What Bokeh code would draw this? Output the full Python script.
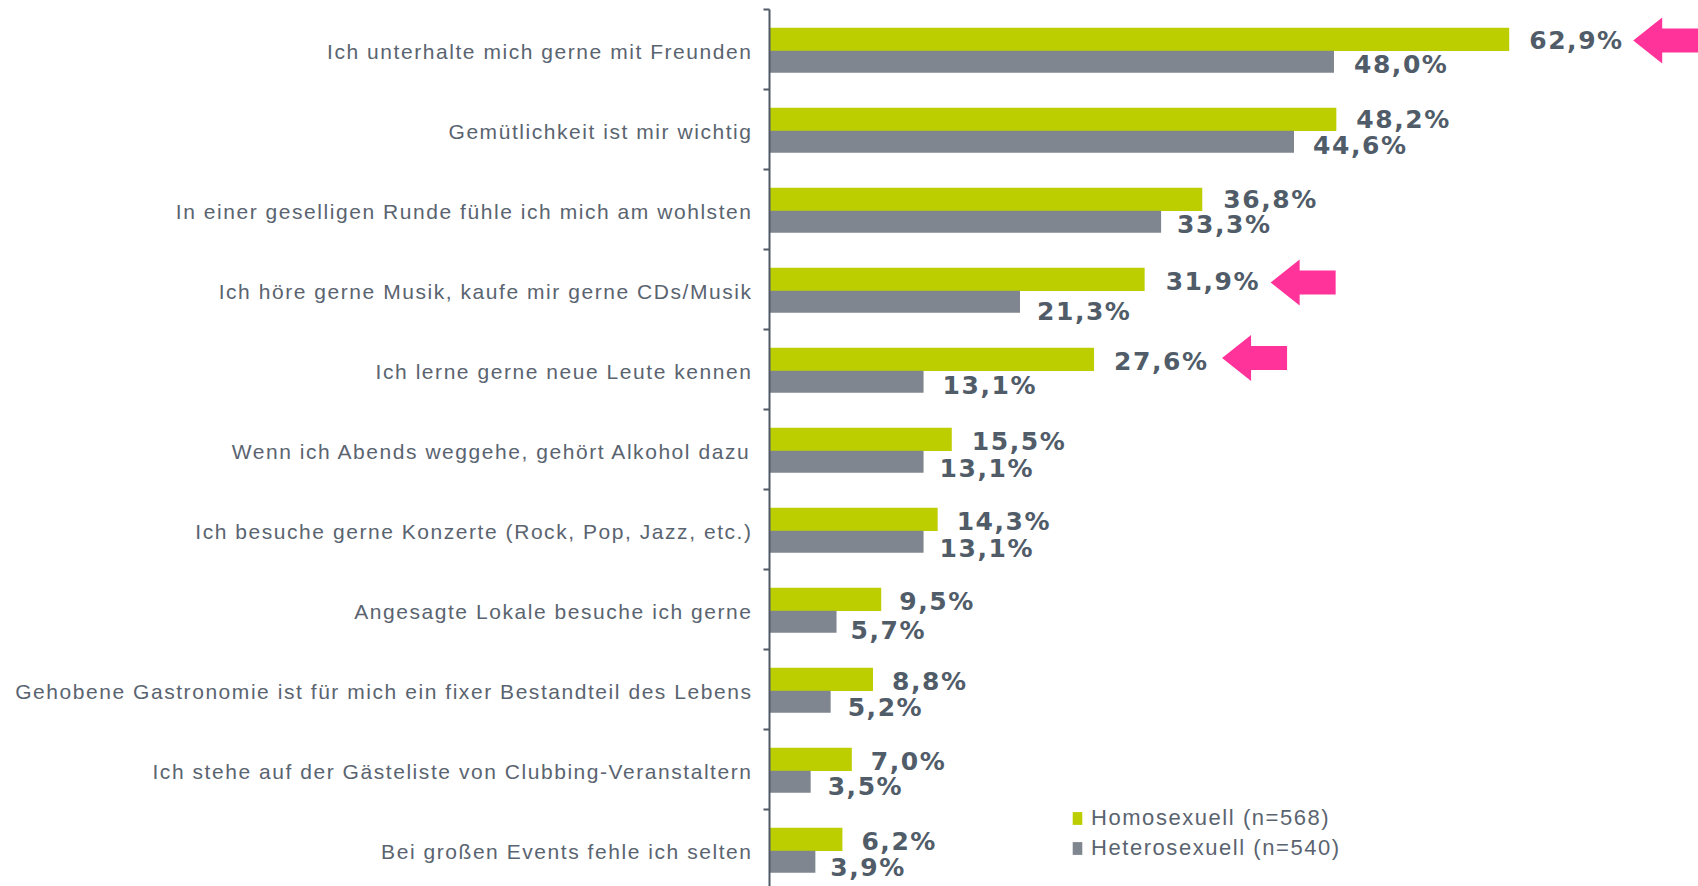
from bokeh.plotting import figure
from bokeh.models import Range1d, FixedTicker, Legend, LegendItem, ColumnDataSource, Label
from bokeh.core.properties import value
from bokeh.embed import file_html
from bokeh.resources import INLINE

categories = [
    "Ich unterhalte mich gerne mit Freunden",
    "Gemütlichkeit ist mir wichtig",
    "In einer geselligen Runde fühle ich mich am wohlsten",
    "Ich höre gerne Musik, kaufe mir gerne CDs/Musik",
    "Ich lerne gerne neue Leute kennen",
    "Wenn ich Abends weggehe, gehört Alkohol dazu",
    "Ich besuche gerne Konzerte (Rock, Pop, Jazz, etc.)",
    "Angesagte Lokale besuche ich gerne",
    "Gehobene Gastronomie ist für mich ein fixer Bestandteil des Lebens",
    "Ich stehe auf der Gästeliste von Clubbing-Veranstaltern",
    "Bei großen Events fehle ich selten",
]
homosexuell = [62.9, 48.2, 36.8, 31.9, 27.6, 15.5, 14.3, 9.5, 8.8, 7.0, 6.2]
heterosexuell = [48.0, 44.6, 33.3, 21.3, 13.1, 13.1, 13.1, 5.7, 5.2, 3.5, 3.9]
highlighted = [0, 3, 4]
series_names = ["Homosexuell (n=568)", "Heterosexuell (n=540)"]

# label placement relative to the bar end / bar centre, in screen pixels
homo_dx = [20, 20, 21, 21, 20, 20, 19, 18, 19, 19, 19]
hetero_dx = [20, 19, 16, 17, 19, 16, 16, 14, 17, 17, 15]
homo_dy = [1, 0, 0, 2, 2, 2, 2, 2, 2, 2, 2]
hetero_dy = [3, 4, 3, 10, 4, 7, 7, 9, 6, 5, 6]
arrow_dx = [124, 126, 128]
arrow_dy = [1, 3, -1.5]

GREEN, GRAY, PINK, TEXT, AXIS = "#bdce00", "#7f868f", "#ff3399", "#5a6470", "#4f5a66"
FONT = "Liberation Sans"
TRACKING = 1.55

W, H = 1698, 886
LEFT = 769
PX_PER_UNIT = 11.76
BAND = 80.0
TOP = 9.3
n = len(categories)

# the frame spans the whole figure, so that the category labels lie inside it
x_start = -LEFT / PX_PER_UNIT
x_end = (W - LEFT) / PX_PER_UNIT
y_top = -TOP / BAND
y_bottom = (H - TOP) / BAND

p = figure(width=W, height=H, output_backend="svg", toolbar_location=None,
           x_range=Range1d(x_start, x_end), y_range=Range1d(y_bottom, y_top),
           min_border_left=0, min_border_right=0, min_border_top=0, min_border_bottom=0,
           outline_line_color=None, background_fill_color="white", border_fill_color="white",
           styles={"letter-spacing": f"{TRACKING}px"})
p.xaxis.visible = False
p.yaxis.visible = False
p.grid.visible = False

centers = [i + 0.525 for i in range(n)]
edges = list(range(n))

# category labels; offset grows with length because of the letter spacing
cat_src = ColumnDataSource(dict(x=[0] * n, y=centers, t=categories,
                                dx=[-(17 + TRACKING * len(c)) for c in categories]))
p.text(x="x", y="y", text="t", x_offset="dx", source=cat_src,
       text_font=value(FONT), text_font_size="21px", text_color=TEXT,
       text_align="right", text_baseline="middle")

homo_y = [i + 0.37 for i in range(n)]
hetero_y = [i + 0.65 for i in range(n)]

r_homo = p.hbar(y=homo_y, left=0, right=homosexuell, height=0.29, color=GREEN, line_color=None)
r_hetero = p.hbar(y=hetero_y, left=0, right=heterosexuell, height=0.275, color=GRAY, line_color=None)

# vertical axis with its ticks on the band edges, drawn over the bars' start
from bokeh.models import LinearAxis
ax = LinearAxis(ticker=FixedTicker(ticks=[], minor_ticks=edges), fixed_location=0,
                bounds=(0, y_bottom), axis_line_color=AXIS, axis_line_width=2,
                major_tick_out=0, major_tick_in=0, minor_tick_out=6, minor_tick_in=0,
                minor_tick_line_color=AXIS, minor_tick_line_width=2,
                major_label_text_font_size="0px")
p.add_layout(ax, "left")


def fmt(v):
    return f"{v:.1f}%".replace(".", ",")


for vals, ys, dx, dy in ((homosexuell, homo_y, homo_dx, homo_dy),
                         (heterosexuell, hetero_y, hetero_dx, hetero_dy)):
    src = ColumnDataSource(dict(x=vals, y=ys, t=[fmt(v) for v in vals], dx=dx, dy=dy))
    p.text(x="x", y="y", text="t", x_offset="dx", y_offset="dy", source=src,
           text_font=value("DejaVu Sans"), text_font_style="bold", text_font_size="25px",
           text_color="#515c69", text_align="left", text_baseline="middle")

# arrows that point at the highlighted labels
xs, ys = [], []
ux, uy = 1 / PX_PER_UNIT, 1 / BAND
for i, adx, ady in zip(highlighted, arrow_dx, arrow_dy):
    tip = homosexuell[i] + adx * ux
    cy = homo_y[i] + ady * uy
    xs.append([tip, tip + 29 * ux, tip + 29 * ux, tip + 65 * ux, tip + 65 * ux, tip + 29 * ux, tip + 29 * ux])
    ys.append([cy, cy - 23 * uy, cy - 12 * uy, cy - 12 * uy, cy + 12 * uy, cy + 12 * uy, cy + 23 * uy])
p.patches(xs, ys, fill_color=PINK, line_color=None)

legend = Legend(items=[LegendItem(label=series_names[0], renderers=[r_homo]),
                       LegendItem(label=series_names[1], renderers=[r_hetero])],
                location=(1071, 25), orientation="vertical",
                background_fill_alpha=0, border_line_color=None,
                padding=0, margin=0, spacing=4,
                glyph_width=12, glyph_height=16, label_standoff=8,
                label_text_font=FONT, label_text_font_size="22px",
                label_text_color=TEXT, label_height=25)
p.add_layout(legend, "center")

open("out.html", "w").write(file_html(p, INLINE))
